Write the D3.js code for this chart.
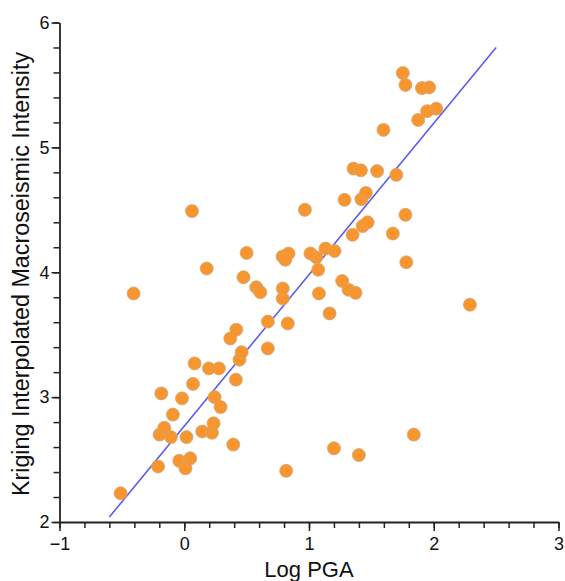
<!DOCTYPE html>
<html><head><meta charset="utf-8">
<script src="https://cdn.jsdelivr.net/npm/d3@7/dist/d3.min.js"></script>
<style>body{margin:0;background:#fff}svg{display:block}text{font-family:"Liberation Sans",Arial,sans-serif;fill:#111}</style>
</head><body>
<script>
const logPGA = [-0.51,-0.21,-0.04,0.048,0.01,-0.198,-0.107,0.018,-0.16,-0.091,0.144,0.222,0.235,0.393,-0.184,-0.018,0.243,0.291,0.07,0.414,0.083,0.198,0.278,0.443,0.46,0.369,0.417,0.67,0.67,0.83,0.79,0.79,0.577,0.61,0.475,-0.406,0.18,0.062,0.50,0.788,0.836,0.81,1.012,1.058,1.132,1.205,1.074,1.08,1.165,1.266,1.317,1.373,0.967,1.285,1.42,1.456,1.43,1.47,1.35,1.672,1.773,1.78,2.29,0.817,1.20,1.40,1.84,1.357,1.416,1.546,1.70,1.597,1.752,1.773,1.905,1.963,2.02,1.947,1.875];
const intensity = [2.23,2.445,2.49,2.51,2.43,2.70,2.68,2.68,2.754,2.86,2.725,2.715,2.79,2.62,3.03,2.99,3.0,2.92,3.106,3.14,3.27,3.23,3.23,3.30,3.36,3.47,3.54,3.39,3.605,3.59,3.79,3.87,3.88,3.84,3.96,3.83,4.03,4.49,4.155,4.126,4.15,4.10,4.15,4.12,4.19,4.17,4.02,3.83,3.67,3.93,3.86,3.835,4.50,4.58,4.585,4.635,4.37,4.40,4.30,4.31,4.46,4.08,3.74,2.41,2.59,2.536,2.70,4.83,4.816,4.81,4.78,5.14,5.595,5.50,5.475,5.48,5.31,5.29,5.22];
const fitX = [-0.6, 2.5];
const fitY = [2.04, 5.80];
const xTicks = [-1,0,1,2,3];
const yTicks = [2,3,4,5,6];

const W = 565, H = 581;
const svg = d3.select("body").append("svg").attr("width", W).attr("height", H);
const x = d3.scaleLinear().domain([-1,3]).range([59.5,558.5]);
const y = d3.scaleLinear().domain([2,6]).range([522,22.5]);

// fit line
svg.append("line")
  .attr("x1", x(fitX[0])).attr("y1", y(fitY[0]))
  .attr("x2", x(fitX[1])).attr("y2", y(fitY[1]))
  .attr("stroke", "#5b5cf0").attr("stroke-width", 1.6);

// points
svg.append("g").selectAll("circle").data(logPGA.map((v,i)=>[v,intensity[i]])).join("circle")
  .attr("cx", d=>x(d[0])).attr("cy", d=>y(d[1])).attr("r", 6.5)
  .attr("fill", "#f7962f").attr("stroke", "#d4a57a").attr("stroke-width", 0.8);

// axes
const xMinor = d3.range(-1, 3.001, 0.2);
const yMinor = d3.range(2, 6.001, 0.2);
const gx = svg.append("g").attr("transform", `translate(0,${y(2)})`);
gx.call(d3.axisBottom(x).tickValues(xMinor).tickSize(6).tickFormat(""));
gx.call(g=>g.selectAll(".domain").remove());
const gx2 = svg.append("g").attr("transform", `translate(0,${y(2)})`);
gx2.call(d3.axisBottom(x).tickValues(xTicks).tickSize(9).tickSizeOuter(0).tickPadding(6).tickFormat(d3.format("d")));
gx2.select(".domain").attr("stroke", "#222").attr("stroke-width", 1.8);
gx2.selectAll("text").attr("font-size", 18).attr("fill", "#111").attr("font-family", "Liberation Sans, Arial, sans-serif");

const gy = svg.append("g").attr("transform", `translate(${x(-1)},0)`);
gy.call(d3.axisLeft(y).tickValues(yMinor).tickSize(6).tickFormat(""));
gy.call(g=>g.selectAll(".domain").remove());
const gy2 = svg.append("g").attr("transform", `translate(${x(-1)},0)`);
gy2.call(d3.axisLeft(y).tickValues(yTicks).tickSize(8).tickSizeOuter(0).tickPadding(2).tickFormat(d3.format("d")));
gy2.select(".domain").attr("stroke", "#222").attr("stroke-width", 1.8);
gy2.selectAll("text").attr("font-size", 18).attr("fill", "#111").attr("font-family", "Liberation Sans, Arial, sans-serif");
svg.selectAll(".tick line").attr("stroke", "#222").attr("stroke-width", 1.5);

// titles
svg.append("text").attr("x", 309).attr("y", 576.5).attr("text-anchor", "middle")
  .attr("font-size", 22).text("Log PGA");
svg.append("text").attr("transform", "translate(29,274) rotate(-90)").attr("text-anchor", "middle")
  .attr("font-size", 23.3).text("Kriging Interpolated Macroseismic Intensity");
</script>
</body></html>
